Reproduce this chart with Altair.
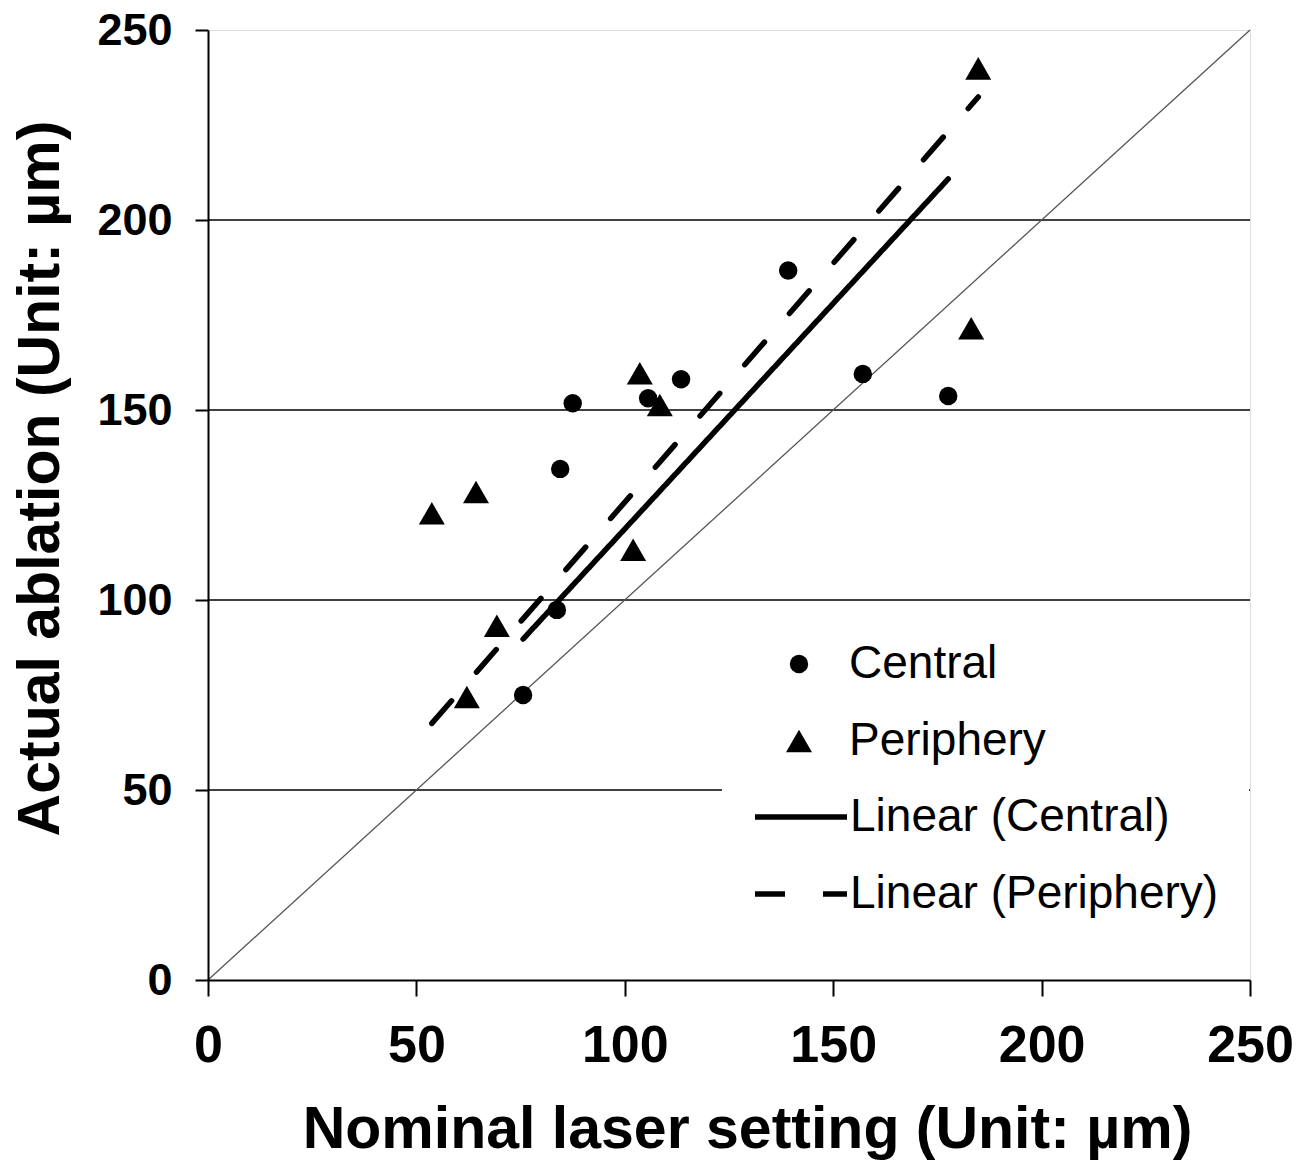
import altair as alt
import numpy as np
import pandas as pd

# ---- data ----
central_x = [75.6, 83.7, 84.5, 87.5, 105.6, 113.5, 139.2, 157.1, 177.6]
central_y = [75.0, 97.4, 134.5, 151.8, 153.1, 158.1, 186.7, 159.5, 153.7]
periph_x = [53.7, 62.1, 64.3, 69.3, 102.0, 103.6, 108.4, 183.1, 184.8]
periph_y = [122.8, 74.5, 128.4, 93.2, 113.2, 159.7, 151.3, 171.5, 239.9]

series_names = ["Central", "Periphery"]
trend_names = ["Linear (Central)", "Linear (Periphery)"]
grid_values = [50, 100, 150, 200]
diag_values = [0, 250]
tick_values = [0, 50, 100, 150, 200, 250]

FONT = "Liberation Sans"

pts = pd.DataFrame({
    "x": central_x + periph_x,
    "y": central_y + periph_y,
    "series": [series_names[0]] * len(central_x) + [series_names[1]] * len(periph_x),
})


def fit_through_origin(xs, ys, label):
    xs = np.asarray(xs, dtype=float)
    ys = np.asarray(ys, dtype=float)
    slope = float((xs * ys).sum() / (xs * xs).sum())
    ends = [float(xs.min()), float(xs.max())]
    return pd.DataFrame({"x": ends, "y": [slope * v for v in ends], "series": [label, label]})


trend = pd.concat([
    fit_through_origin(central_x, central_y, trend_names[0]),
    fit_through_origin(periph_x, periph_y, trend_names[1]),
], ignore_index=True)

grid_df = pd.DataFrame({"g": grid_values})
diag_df = pd.DataFrame({"x": diag_values, "y": diag_values})

xscale = alt.Scale(domain=[0, 250], nice=False, zero=False)
yscale = alt.Scale(domain=[0, 250], nice=False, zero=False)

xaxis = alt.Axis(
    values=tick_values, grid=False, tickSize=16, tickWidth=2, domainWidth=2,
    domainColor="black", tickColor="black", zindex=1,
    labelFont=FONT, labelFontSize=52, labelFontWeight="bold", labelColor="black",
    labelPadding=24, labelFlush=False,
    title="Nominal laser setting (Unit: µm)", titleFont=FONT, titleFontSize=59,
    titleFontWeight="bold", titleColor="black",
    titleX=539, titleY=167, titleBaseline="alphabetic",
)
yaxis = alt.Axis(
    values=tick_values, grid=False, tickSize=13, tickWidth=2, domainWidth=2,
    domainColor="black", tickColor="black", zindex=1,
    labelFont=FONT, labelFontSize=45, labelFontWeight="bold", labelColor="black",
    labelPadding=23, labelFlush=False,
    title="Actual ablation (Unit: µm)", titleFont=FONT, titleFontSize=59,
    titleFontWeight="bold", titleColor="black",
    titleX=-150, titleY=448, titleBaseline="alphabetic",
)


def X(field="x"):
    return alt.X(f"{field}:Q", scale=xscale, axis=xaxis)


def Y(field="y"):
    return alt.Y(f"{field}:Q", scale=yscale, axis=yaxis)


grid = alt.Chart(grid_df).mark_rule(color="black", strokeWidth=1.6).encode(y=Y("g"))

diag = alt.Chart(diag_df).mark_line(color="#555555", strokeWidth=1.3).encode(x=X(), y=Y())

legend_lines = alt.Legend(
    title=None, orient="none", legendX=514, legendY=708, padding=30,
    fillColor="white", symbolType="stroke", symbolSize=8464, symbolStrokeWidth=5.5,
    symbolStrokeColor="black", labelOffset=0, rowPadding=5,
    labelFont=FONT, labelFontSize=46, labelColor="black", labelLimit=600,
)

trend_layer = alt.Chart(trend).mark_line(color="black", strokeWidth=5.5, strokeCap="round").encode(
    x=X(), y=Y(),
    strokeDash=alt.StrokeDash(
        "series:N",
        scale=alt.Scale(domain=trend_names, range=[[1, 0], [30, 38]]),
        legend=legend_lines,
    ),
)

legend_pts = alt.Legend(
    title=None, orient="none", legendX=568, legendY=611, padding=0,
    labelOffset=27, rowPadding=31, symbolFillColor="black", symbolStrokeWidth=0,
    labelFont=FONT, labelFontSize=46, labelColor="black", labelLimit=600,
)

points = alt.Chart(pts).mark_point(filled=True, color="black", opacity=1).encode(
    x=X(), y=Y(),
    shape=alt.Shape("series:N", scale=alt.Scale(domain=series_names, range=["circle", "triangle-up"]),
                    legend=legend_pts),
    size=alt.Size("series:N", scale=alt.Scale(domain=series_names, range=[340, 676]),
                  legend=legend_pts),
)

chart = alt.layer(grid, diag, trend_layer, points).properties(
    width=1042, height=950,
    autosize=alt.AutoSizeParams(type="none"),
    padding={"left": 200, "top": 22, "right": 50, "bottom": 180},
).configure_view(stroke="#8a8a8a", strokeWidth=2).configure(background="white")

chart.save("out.html", embed_options={"renderer": "svg", "actions": False})
